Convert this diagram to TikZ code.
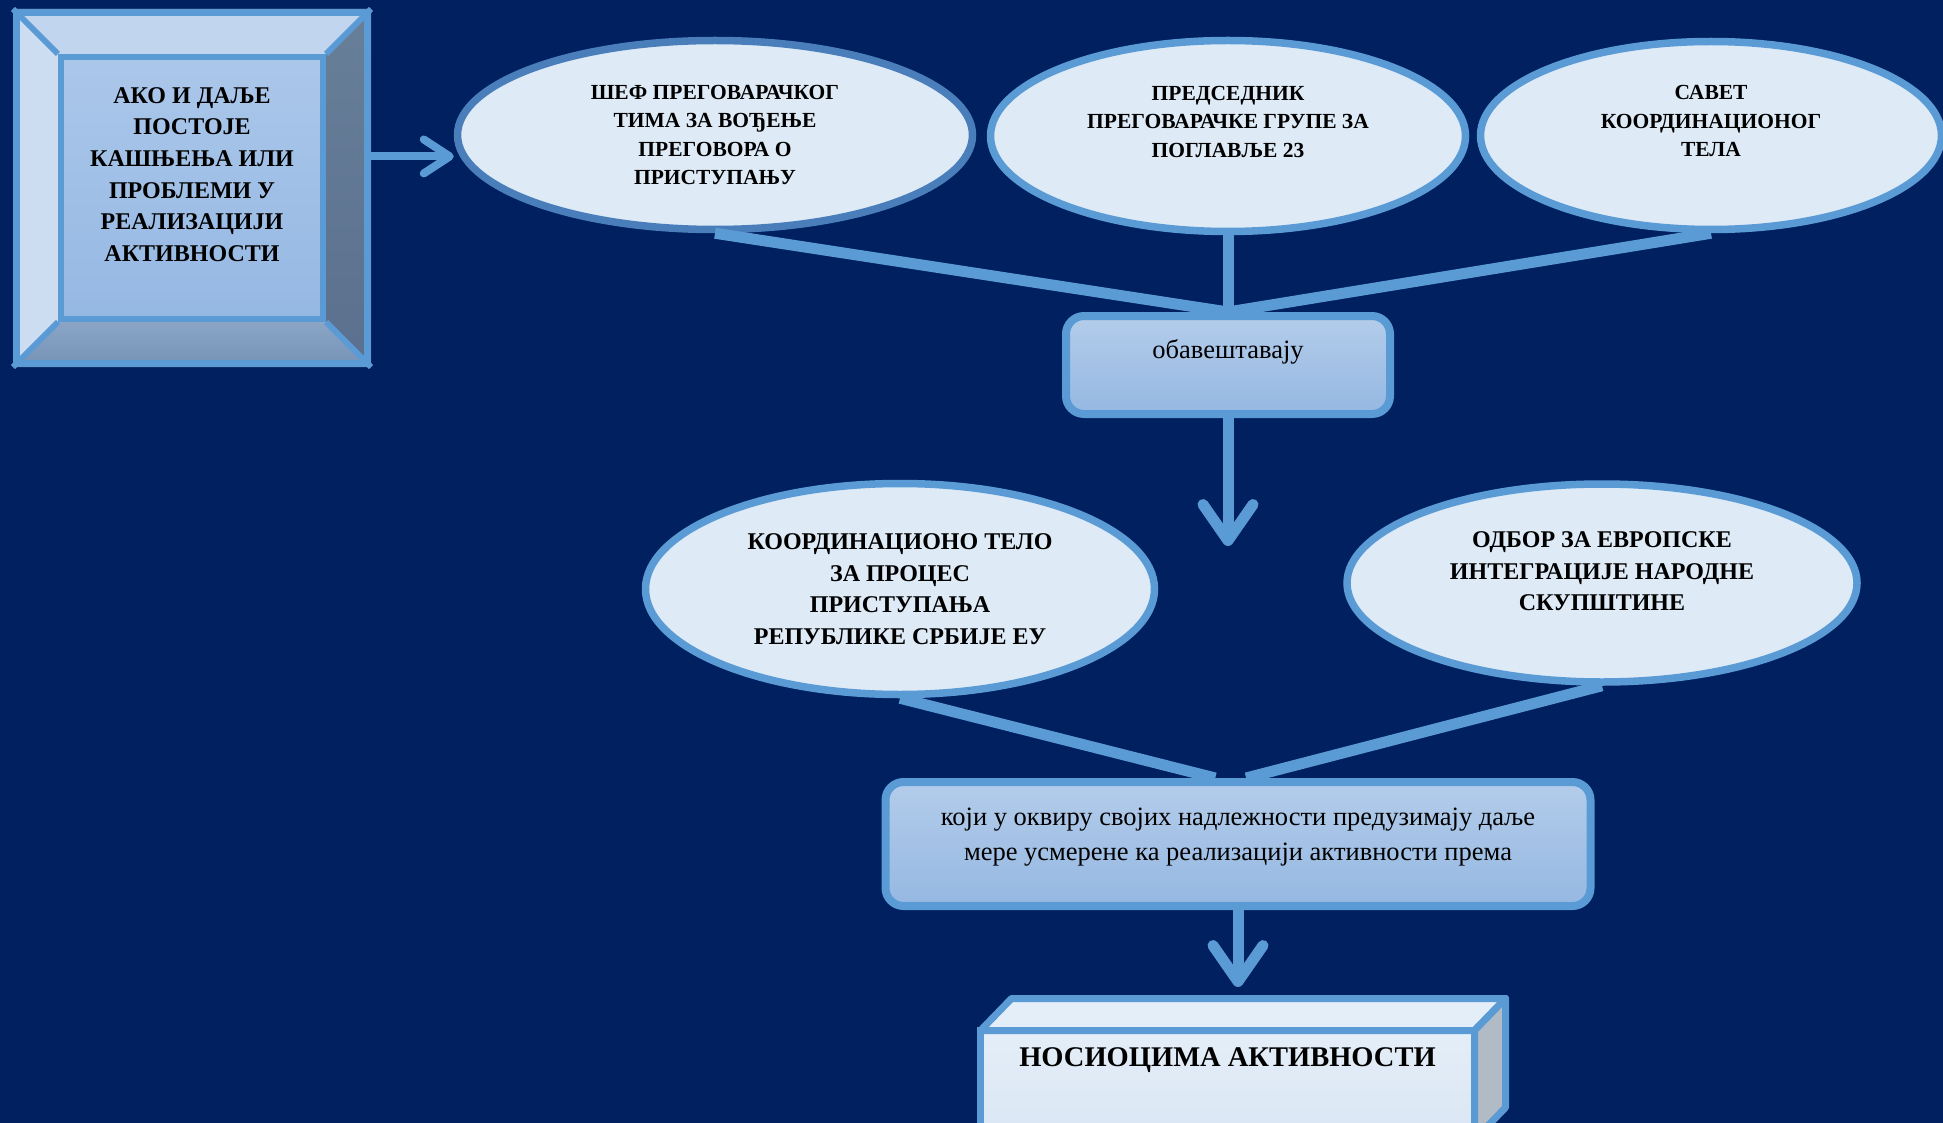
\documentclass[tikz,border=0pt]{standalone}
\usepackage{fontspec}
\setmainfont{Liberation Serif}
\usetikzlibrary{shapes.geometric,arrows.meta,calc,backgrounds,shadows}

\definecolor{night}{HTML}{002060}
\definecolor{edge}{HTML}{5B9BD5}
\definecolor{edgedark}{HTML}{4A7EBB}
\definecolor{pale}{HTML}{DEEAF6}
\definecolor{boxtop}{HTML}{B3CCEA}
\definecolor{boxbot}{HTML}{95B8E2}
\definecolor{alerttop}{HTML}{ABC7EA}
\definecolor{alertbot}{HTML}{95B8E3}
\definecolor{lidface}{HTML}{C1D5EE}
\definecolor{leftface}{HTML}{CCDDF2}
\definecolor{righttop}{HTML}{687F99}
\definecolor{rightbot}{HTML}{5A708E}
\definecolor{basefacetop}{HTML}{8AA5C6}
\definecolor{basefacebot}{HTML}{7591B5}
\definecolor{cratetop}{HTML}{E4EEF8}
\definecolor{cratebot}{HTML}{DAE6F4}
\definecolor{cratelid}{HTML}{E4EEF9}
\definecolor{crateside}{HTML}{B1BBC6}

\begin{document}
\begin{tikzpicture}
    [x=1pt, y=-1pt,
     bubble/.style={ellipse, draw=edge, fill=pale, line width=7.5pt, inner sep=0pt, align=center,
        font=\fontsize{21.5}{28.5}\selectfont\bfseries},
     wide bubble/.style={bubble, font=\fontsize{24}{31.5}\selectfont\bfseries},
     tab/.style={draw=edge, line width=8pt, rounded corners=18pt, top color=boxtop, bottom color=boxbot,
        inner sep=0pt, align=center, font=\fontsize{26.5}{35}\selectfont},
     link/.style={draw=edge, line width=11pt},
     push/.style={link, -{Straight Barb[length=36pt, width=50pt, round]}},
     rim/.style={draw=edge, line width=6pt}]
    \useasboundingbox (0,0) rectangle (1943,1123);
    \clip (0,0) rectangle (1943,1123);

    \node[tab, sharp corners, line width=6pt, minimum size=262pt, top color=alerttop, bottom color=alertbot,
        font=\fontsize{24}{31.7}\selectfont\bfseries, text depth=27pt] (alert) at (192,188)
        {АКО И ДАЉЕ\\ПОСТОЈЕ\\КАШЊЕЊА ИЛИ\\ПРОБЛЕМИ У\\РЕАЛИЗАЦИЈИ\\АКТИВНОСТИ};
    \node[draw=edge, line width=7pt, minimum size=351pt] (frame) at (192,188) {};
    \foreach \c in {north west, north east, south east, south west}
        \draw[rim] (frame.\c) -- (alert.\c);

    \node[bubble, draw=edgedark, drop shadow={opacity=.35}, minimum width=515pt, minimum height=189pt] (chef) at (715,135)
        {ШЕФ ПРЕГОВАРАЧКОГ\\ТИМА ЗА ВОЂЕЊЕ\\ПРЕГОВОРА О\\ПРИСТУПАЊУ};
    \node[bubble, minimum width=475pt, minimum height=191pt, text depth=29pt] (pres) at (1228,136)
        {ПРЕДСЕДНИК\\ПРЕГОВАРАЧКЕ ГРУПЕ ЗА\\ПОГЛАВЉЕ 23};
    \node[bubble, minimum width=461pt, minimum height=188pt, text depth=29pt] (council) at (1711,135.5)
        {САВЕТ\\КООРДИНАЦИОНОГ\\ТЕЛА};
    \node[tab, minimum width=324pt, minimum height=98pt, text depth=31.5pt] (notify) at (1228,365) {обавештавају};
    \coordinate (gap) at (1228,546);

    \node[wide bubble, minimum width=509pt, minimum height=211pt] (coord) at (900,589)
        {КООРДИНАЦИОНО ТЕЛО\\ЗА ПРОЦЕС\\ПРИСТУПАЊА\\РЕПУБЛИКЕ СРБИЈЕ ЕУ};
    \node[wide bubble, minimum width=510pt, minimum height=198pt, text depth=23pt] (board) at (1602,583)
        {ОДБОР ЗА ЕВРОПСКЕ\\ИНТЕГРАЦИЈЕ НАРОДНЕ\\СКУПШТИНЕ};
    \node[tab, minimum width=705pt, minimum height=124pt, text depth=19pt] (measures) at (1238,844)
        {који у оквиру својих надлежности предузимају даље\\мере усмерене ка реализацији активности према};
    \coordinate (drop) at (1238,987);

    \node[draw=edge, line width=7pt, outer sep=0pt, top color=cratetop, bottom color=cratebot,
        minimum width=494pt, minimum height=109pt, font=\fontsize{28.5}{34}\selectfont\bfseries,
        text depth=55pt] (holders) at (1227.5,1085) {НОСИОЦИМА АКТИВНОСТИ};
    \filldraw[draw=edge, fill=cratelid, line width=7pt, line join=round] (holders.north west) -- ++(31,-32)
        -- ($(holders.north east)+(31,-32)$) -- (holders.north east) -- cycle;
    \filldraw[draw=edge, fill=crateside, line width=7pt, line join=round] (holders.north east) -- ++(31,-32)
        -- ($(holders.south east)+(31,-32)$) -- (holders.south east) -- cycle;

    \foreach \from/\to in {chef.south/notify.north, pres.south/notify.north, council.south/notify.north,
        coord.south/measures.109, board.south/measures.83}
        \draw[link] (\from) -- (\to);
    \draw[push] (notify.south) -- (gap);
    \draw[push] (measures.south) -- (drop);
    \draw[push, line width=8pt, -{Straight Barb[length=26pt, width=34pt, round]}] (frame.10) -- (frame.10 -| chef.west);

    \begin{pgfonlayer}{background}
        \fill[night] (0,0) rectangle (1943,1123);
        \fill[lidface] (frame.north west) -- (frame.north east) -- (alert.north east) -- (alert.north west) -- cycle;
        \fill[leftface] (frame.north west) -- (alert.north west) -- (alert.south west) -- (frame.south west) -- cycle;
        \shade[top color=righttop, bottom color=rightbot] (frame.north east) -- (frame.south east)
            -- (alert.south east) -- (alert.north east) -- cycle;
        \shade[top color=basefacetop, bottom color=basefacebot] (frame.south west) -- (alert.south west)
            -- (alert.south east) -- (frame.south east) -- cycle;
    \end{pgfonlayer}
\end{tikzpicture}
\end{document}
